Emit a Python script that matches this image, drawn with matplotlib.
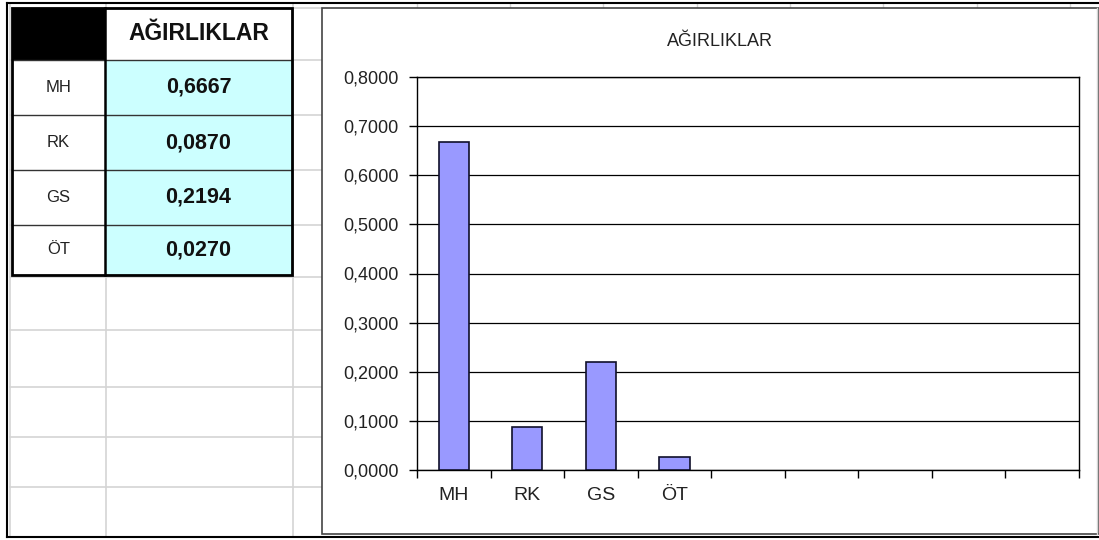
import matplotlib
matplotlib.use("Agg")
import matplotlib.pyplot as plt
from matplotlib.patches import Rectangle

plt.rcParams['font.family'] = ['Liberation Sans', 'DejaVu Sans']

# Data
categories = ["MH", "RK", "GS", "ÖT"]
weights = [0.6667, 0.0870, 0.2194, 0.0270]
weight_labels = ["0,6667", "0,0870", "0,2194", "0,0270"]
header = "AĞIRLIKLAR"
chart_title = "AĞIRLIKLAR"
y_ticks = [0.0, 0.1, 0.2, 0.3, 0.4, 0.5, 0.6, 0.7, 0.8]
n_slots = 9  # category slots on the x axis (unused ones left empty)

W, H = 1099, 540
fig = plt.figure(figsize=(W / 100, H / 100), dpi=100)
fig.patch.set_facecolor("white")

# Background layer in pixel coordinates (spreadsheet, table, chart frame)
bg = fig.add_axes([0, 0, 1, 1])
bg.set_xlim(0, W)
bg.set_ylim(H, 0)
bg.axis("off")

grid_c = "#d4d4d4"
# spreadsheet gridlines
for y in [8, 60, 115, 170, 225, 277, 330, 387, 437, 487]:
    bg.plot([10, 322], [y, y], color=grid_c, lw=1.2, zorder=1)
for x in [10, 106, 293]:
    bg.plot([x, x], [3, 537], color=grid_c, lw=1.2, zorder=1)
for x in [417, 510, 603, 697, 790, 883, 977, 1070]:
    bg.plot([x, x], [3, 8], color=grid_c, lw=1.0, zorder=1)

# table
tx0, tx1, tcol = 12, 292, 105
row_edges = [8, 60, 115, 170, 225, 275]
bg.add_patch(Rectangle((tx0, 8), tcol - tx0, 52, facecolor="black", edgecolor="none", zorder=2))
bg.add_patch(Rectangle((tcol, 8), tx1 - tcol, 52, facecolor="white", edgecolor="none", zorder=2))
bg.add_patch(Rectangle((tx0, 60), tcol - tx0, 215, facecolor="white", edgecolor="none", zorder=2))
bg.add_patch(Rectangle((tcol, 60), tx1 - tcol, 215, facecolor="#ccffff", edgecolor="none", zorder=2))
for y in row_edges[1:-1]:
    bg.plot([tx0, tx1], [y, y], color="#333333", lw=1.0, zorder=3)
bg.plot([tcol, tcol], [8, 275], color="black", lw=1.8, zorder=3)
bg.add_patch(Rectangle((tx0, 8), tx1 - tx0, 267, facecolor="none", edgecolor="black", lw=2.0, zorder=4))

bg.text((tcol + tx1) / 2, 34, header, ha="center", va="center", fontsize=16.5,
        fontweight="bold", color="#111111", zorder=5)
for i, (cat, lab) in enumerate(zip(categories, weight_labels)):
    yc = (row_edges[i + 1] + row_edges[i + 2]) / 2
    bg.text((tx0 + tcol) / 2, yc, cat, ha="center", va="center", fontsize=12,
            color="#222222", zorder=5)
    bg.text((tcol + tx1) / 2, yc, lab, ha="center", va="center", fontsize=15.5,
            fontweight="bold", color="#111111", zorder=5)

# chart frame
bg.add_patch(Rectangle((322, 8), 777, 526, facecolor="white", edgecolor="#444444", lw=1.2, zorder=6))
bg.text(720, 42, chart_title, ha="center", va="center", fontsize=13, color="#222222", zorder=7)

# outer screenshot border
bg.plot([7, W], [3, 3], color="black", lw=1.5, zorder=8)
bg.plot([7, 7], [3, 537], color="black", lw=1.5, zorder=8)
bg.plot([7, W], [537, 537], color="black", lw=1.5, zorder=8)
bg.plot([1097, 1097], [8, 534], color=grid_c, lw=1.0, zorder=8)

# chart plot area
px0, px1, py_top, py_bot = 417, 1079, 77, 470
ax = fig.add_axes([px0 / W, (H - py_bot) / H, (px1 - px0) / W, (py_bot - py_top) / H])
ax.set_zorder(10)
ax.set_facecolor("white")
ax.bar(range(len(categories)), weights, width=0.41, color="#9999ff",
       edgecolor="#10102a", linewidth=1.2, zorder=3)
ax.set_xlim(-0.5, n_slots - 0.5)
ax.set_ylim(0, 0.8)
ax.set_yticks(y_ticks)
ax.set_yticklabels([f"{v:.4f}".replace(".", ",") for v in y_ticks])
ax.yaxis.grid(True, color="black", lw=0.9, zorder=1)
ax.set_axisbelow(True)
ax.set_xticks([i - 0.5 for i in range(n_slots + 1)])
ax.set_xticklabels([])
ax.set_xticks(range(len(categories)), minor=True)
ax.set_xticklabels(categories, minor=True)
ax.tick_params(axis="x", which="minor", length=0, pad=12, labelsize=14, labelcolor="#222222")
ax.tick_params(axis="x", which="major", length=6, width=1.0, direction="out")
ax.tick_params(axis="y", length=6, width=1.0, direction="out", pad=7, labelsize=13,
               labelcolor="#222222")
for s in ax.spines.values():
    s.set_color("black")
    s.set_linewidth(1.0)

fig.savefig("out.png", dpi=100, facecolor="white")
